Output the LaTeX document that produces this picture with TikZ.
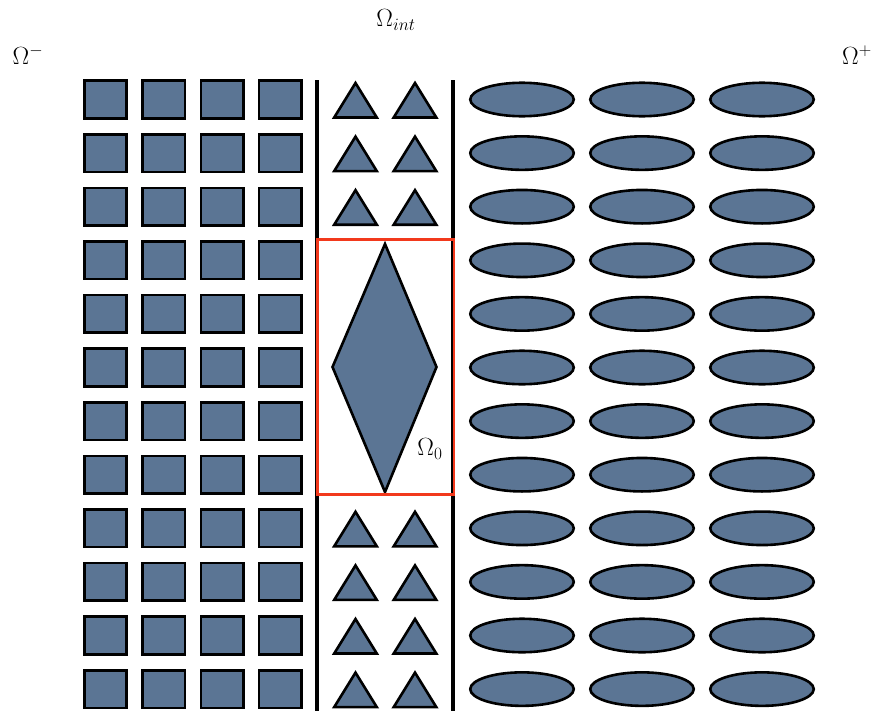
\documentclass[tikz,border=0pt]{standalone}
\usetikzlibrary{shapes.geometric}
\definecolor{cellfill}{HTML}{5B7594}
\definecolor{redbox}{HTML}{F2391C}
\begin{document}
\begin{tikzpicture}[x=1pt,y=-1pt,
  sq/.style={draw=black,fill=cellfill,line width=2.6pt,minimum width=42.5pt,minimum height=37.5pt,inner sep=0pt},
  el/.style={ellipse,draw=black,fill=cellfill,line width=2.6pt,minimum width=103.5pt,minimum height=33.5pt,inner sep=0pt},
  tri/.style={draw=black,fill=cellfill,line width=2.6pt,line join=miter},
  wall/.style={line width=3.2pt,black},
  lbl/.style={font=\fontsize{23}{28}\selectfont,inner sep=0pt}]
\useasboundingbox (0,0) rectangle (878,715);
% squares and ellipses
\foreach \r in {0,...,11}{
  \foreach \c in {0,...,3}{
    \node[sq] (s\r-\c) at ({105.5+58.3*\c},{99.5+53.6*\r}) {};
  }
  \foreach \c in {0,1,2}{
    \node[el] (e\r-\c) at ({522+120*\c},{99.5+53.6*\r}) {};
  }
}
% triangles
\foreach \r in {0,1,2,8,9,10,11}{
  \foreach \cx in {355.5,415}{
    \filldraw[tri] ({\cx},{99.5+53.6*\r-16.5}) -- ({\cx+21.3},{99.5+53.6*\r+18}) -- ({\cx-21.3},{99.5+53.6*\r+18}) -- cycle;
  }
}
% walls
\coordinate (wl1) at (317,80); \coordinate (wl2) at (317,711);
\coordinate (wr1) at (453,80); \coordinate (wr2) at (453,711);
\draw[wall] (wl1) -- (wl2);
\draw[wall] (wr1) -- (wr2);
% diamond
\filldraw[tri] (385,244) -- (436.5,367) -- (385,492) -- (332.5,367) -- cycle;
% red box
\draw[redbox,line width=2.6pt] (317.5,239.5) rectangle (454,494.5);
% labels
\node[lbl] (om) at (28,55) {$\Omega^{-}$};
\node[lbl] (oint) at (396,20) {$\Omega_{int}$};
\node[lbl] (op) at (857,55) {$\Omega^{+}$};
\node[lbl] (o0) at (430,449) {$\Omega_0$};
\end{tikzpicture}
\end{document}
